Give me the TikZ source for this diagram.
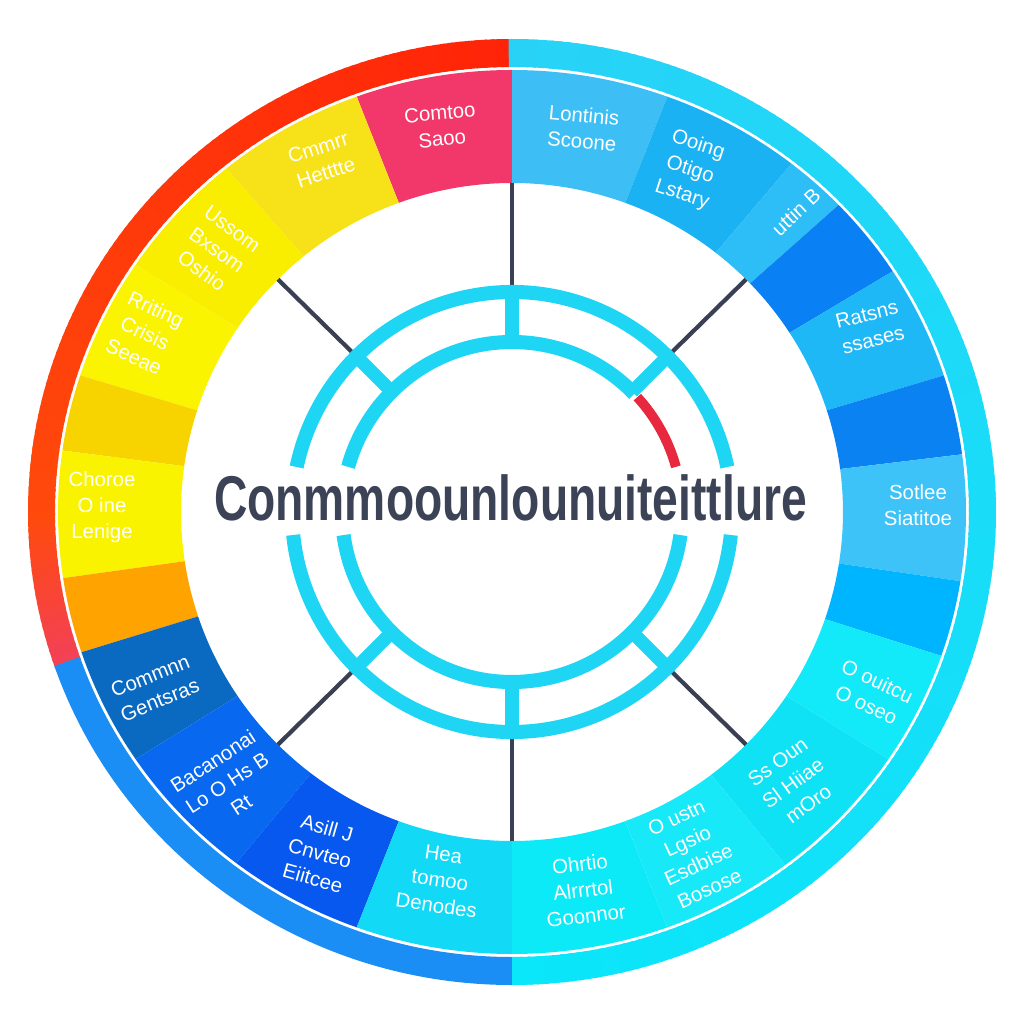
\documentclass[tikz,border=0pt]{standalone}
\usepackage{fontspec}
\setmainfont{Liberation Sans}
\usetikzlibrary{calc}
\definecolor{Ink}{HTML}{3C4356}
\definecolor{Ring}{HTML}{1ED5F4}
\definecolor{Wire}{HTML}{3A4054}
\definecolor{Alert}{HTML}{E8283E}
\definecolor{BandTop}{HTML}{FF2408}
\definecolor{BandMid}{HTML}{FF4A0C}
\definecolor{BandLow}{HTML}{F2405A}
\definecolor{BandBlue}{HTML}{1A8EF4}
\definecolor{CyanTop}{HTML}{28D2F6}
\definecolor{CyanLow}{HTML}{0AE6FA}
\tikzset{
    ringline/.style={draw=Ring, line width=4pt},
    spokeline/.style={draw=Ring, line width=3.8pt},
    link/.style={draw=Wire, line width=1.2pt},
    segtext/.style={text=white, align=center, inner sep=0pt, font=\fontsize{5.8}{7.4}\selectfont},
    titletext/.style={text=Ink, inner sep=0pt, xscale=0.73, font=\fontsize{18}{20}\selectfont\bfseries},
}
% start angle, end angle, outer x/y radius, inner x/y radius, colour
\newcommand{\ringpart}[7]{%
    \fill[#7] (#1:#3 and #4) arc[start angle=#1, end angle=#2, x radius=#3, y radius=#4]
        -- (#2:#5 and #6) arc[start angle=#2, end angle=#1, x radius=#5, y radius=#6] -- cycle;}

\begin{document}
\begin{tikzpicture}[x=0.01cm, y=0.01cm]
    \useasboundingbox (-512,-512) rectangle (512,512);
    % outer band
    \foreach \a in {90,...,179}{
        \pgfmathtruncatemacro\p{(\a-90)/0.9}\pgfmathsetmacro\b{\a+1.4}
        \ringpart{\a}{\b}{484}{473}{457}{445}{BandMid!\p!BandTop}}
    \foreach \a in {180,...,198}{
        \pgfmathtruncatemacro\p{(\a-180)/0.19}\pgfmathsetmacro\b{\a+1.4}
        \ringpart{\a}{\b}{484}{473}{457}{445}{BandLow!\p!BandMid}}
    \foreach \a in {-90,...,89}{
        \pgfmathtruncatemacro\p{(\a+90)/1.8}\pgfmathsetmacro\b{\a+1.4}
        \ringpart{\a}{\b}{484}{473}{457}{445}{CyanTop!\p!CyanLow}}
    \ringpart{199}{270}{484}{473}{457}{445}{BandBlue}
    % segments
    \foreach \a/\b/\c in {90/70/3DBFF5, 70/52/1AB2F2, 52/44/2DBDF7, 44/33/0A80F5, 33/18/1FB8F7,
        18/7.5/0A82F2, 7.5/-9/3DC3F7, -9/-19/00B5FF, -19/-34/12EAFA, -34/-53/10E2F6,
        -53/-70/18E9F8, -70/-90/0CEAF8, 90/110/F2386A, 110/129/F7E21A, 129/146/F9EE00,
        146/162/FAF400, 162/172/F7D300, 172/188.6/FAF300, 188.6/198.5/FFA300,
        198.5/214/0A6AC2, 214/232.6/0868F0, 232.6/250/0658EE, 250/270/12D9F6}{
        \definecolor{seg}{HTML}{\c}
        \ringpart{\a}{\b}{454}{442}{331}{329}{seg}}
    % links, spokes and rings
    \foreach \a in {45,90,135,225,270,315}{
        \coordinate (inner\a) at (\a:170);
        \coordinate (outer\a) at (\a:220);
        \coordinate (edge\a) at (\a:331 and 329);
        \draw[link] (outer\a) -- (edge\a);
        \draw[spokeline] (inner\a) -- (outer\a);
    }
    \draw[ringline] (11.8:220) arc[start angle=11.8, end angle=168.2, radius=220];
    \draw[ringline] (186:220) arc[start angle=186, end angle=354, radius=220];
    \draw[ringline] (44:170) arc[start angle=44, end angle=164.6, radius=170];
    \draw[ringline] (187.8:170) arc[start angle=187.8, end angle=352.2, radius=170];
    \draw[ringline, draw=Alert, line width=2.8pt] (15.4:170) arc[start angle=15.4, end angle=42.5, radius=170];
    \node[titletext] (title) at (-1.5,14.5) {Conmmoounlounuiteittlure};
    % segment labels
    \foreach \n/\x/\y/\r/\t in {
        1/71/384/-5/{Lontinis\\Scoone}, 2/178/342/-18/{Ooing\\Otigo\\Lstary},
        3/284/300/43/{uttin B}, 5/358/185/14/{Ratsns\\ssases},
        7/406/7/0/{Sotlee\\Siatitoe}, 9/360/-181/-25/{O ouitcu\\O oseo},
        10/281/-271/36/{Ss Oun\\Sl Hiiae\\mOro}, 11/181/-341/25/{O ustn\\Lgsio\\Esdbise\\Bosose},
        12/71/-378/7/{Ohrtio\\Alrrrtol\\Goonnor}, 13/-71/386/5/{Comtoo\\Saoo},
        14/-190/352/18/{Cmmrr\\Hetttte}, 15/-295/262/-36/{Ussom\\Bxsom\\Oshio},
        16/-367/179/-25/{Rriting\\Crisis\\Seeae}, 18/-410/5/0/{Choroe\\O ine\\Lenige},
        20/-357/-176/22/{Commnn\\Gentsras}, 21/-285/-271/33/{Bacanonai\\Lo O Hs B\\Rt},
        22/-192/-341/-16/{Asill J\\Cnvteo\\Eiitcee}, 23/-72/-368/-8/{Hea\\tomoo\\Denodes}}
        \node[segtext, rotate=\r] (s\n) at (\x,\y) {\t};
\end{tikzpicture}
\end{document}
